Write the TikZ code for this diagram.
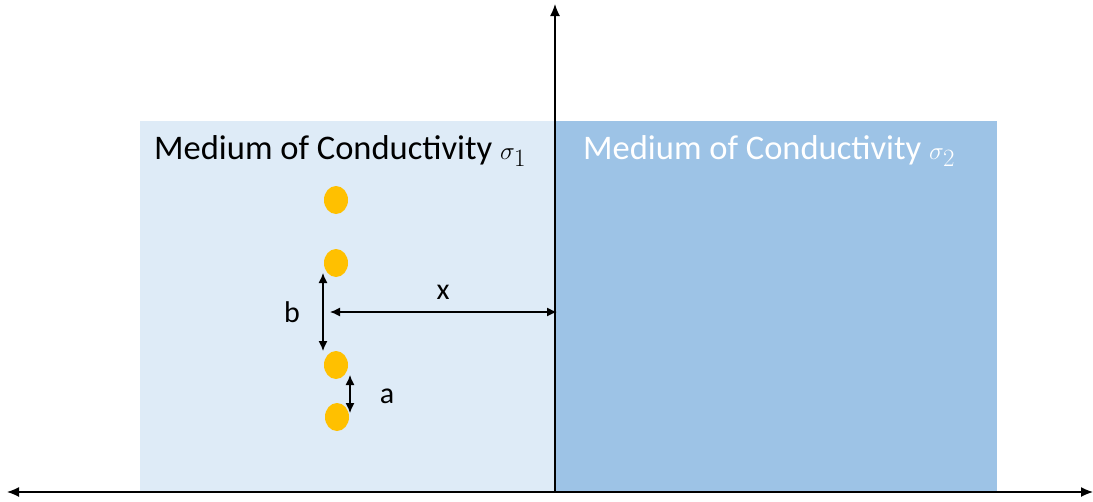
\documentclass[tikz,border=0pt]{standalone}
\usepackage{fontspec}
\setmainfont{Carlito}
\usepackage{tikz}
\usetikzlibrary{arrows.meta,shapes.geometric}
\definecolor{mediumone}{HTML}{DEEBF7}
\definecolor{mediumtwo}{HTML}{9DC3E6}
\definecolor{chargefill}{HTML}{FFC000}

\begin{document}
\begin{tikzpicture}[x=1pt,y=-1pt,
  axis/.style={line width=1.3pt},
  dim/.style={line width=1.3pt,{Latex[length=10pt,width=9pt]}-{Latex[length=10pt,width=9pt]}},
  charge/.style={ellipse,fill=chargefill,minimum width=24pt,minimum height=28pt,inner sep=0pt},
  title/.style={font=\fontsize{34.5}{37}\selectfont,anchor=base west,inner sep=0pt},
  lbl/.style={font=\fontsize{30}{32}\selectfont,inner sep=0pt}]
% picture frame in pixels of the original
\useasboundingbox (0,0) rectangle (1093,501);
% the two media
\fill[mediumone] (140,121) rectangle (555,492);
\fill[mediumtwo] (555,121) rectangle (997,492);
\node[title] (titleone) at (154,159) {Medium of Conductivity $\sigma_1$};
\node[title,white] (titletwo) at (583,159) {Medium of Conductivity $\sigma_2$};
% axes
\coordinate (origin) at (555,492);
\coordinate (xmin) at (7,492);
\coordinate (xmax) at (1093,492);
\coordinate (ytop) at (555,4);
\draw[axis,{Latex[length=12pt,width=10pt]}-{Latex[length=12pt,width=10pt]}] (xmin) -- (xmax);
\draw[axis,-{Latex[length=12pt,width=10pt]}] (origin) -- (ytop);
% charges
\node[charge] (q1) at (336,200) {};
\node[charge] (q2) at (336,263) {};
\node[charge] (q3) at (336,365) {};
\node[charge] (q4) at (337,417) {};
% spacings
\coordinate (btop) at (323,273);
\coordinate (bbot) at (323,351);
\coordinate (xleft) at (330,312);
\coordinate (xright) at (557,312);
\coordinate (atop) at (350,375);
\coordinate (abot) at (350,413);
\draw[dim] (btop) -- (bbot);
\draw[dim] (xleft) -- (xright);
\draw[dim] (atop) -- (abot);
\node[lbl] (blabel) at (292,312) {b};
\node[lbl] (xlabel) at (443,292) {x};
\node[lbl] (alabel) at (387,396) {a};
\end{tikzpicture}
\end{document}
